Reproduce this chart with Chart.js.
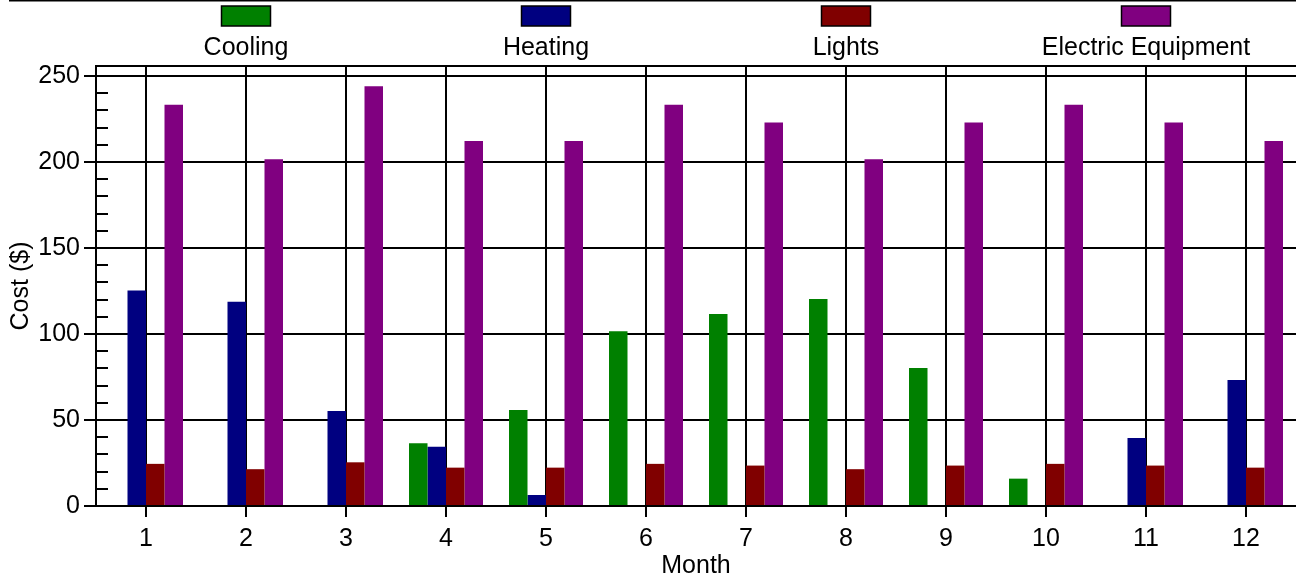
<!DOCTYPE html>
<html>
<head>
<meta charset="utf-8">
<script src="https://cdn.jsdelivr.net/npm/chart.js@4.4.1/dist/chart.umd.min.js"></script>
<style>
  html, body { margin: 0; padding: 0; background: #fff; }
  #wrap { width: 1296px; height: 582px; }
</style>
</head>
<body>
<div id="wrap"><canvas id="c" width="1296" height="582"></canvas></div>
<script>
const months = ['1','2','3','4','5','6','7','8','9','10','11','12'];
const seriesNames = ['Cooling','Heating','Lights','Electric Equipment'];
const cooling  = [null, null, null, 36.5, 55.8, 101.6, 111.6, 120.4, 80.2, 15.9, null, null];
const heating  = [125.3, 118.8, 55.2, 34.4, 6.4, null, null, null, null, null, 39.5, 73.3];
const lights   = [24.5, 21.4, 25.4, 22.3, 22.3, 24.5, 23.5, 21.4, 23.5, 24.5, 23.5, 22.3];
const electric = [233.3, 201.6, 244.0, 212.2, 212.2, 233.3, 222.9, 201.6, 222.9, 233.3, 222.9, 212.2];
const yTicks = [0, 50, 100, 150, 200, 250];
const yMinorStep = 10;
const colors = ['#008000', '#000080', '#800000', '#800080'];

const FONT = '"Liberation Sans", Arial, sans-serif';
const FSIZE = 25;

const extras = {
  id: 'extras',
  afterDraw(chart) {
    const ctx = chart.ctx;
    const a = chart.chartArea;
    const y = chart.scales.y;
    ctx.save();
    ctx.fillStyle = '#000';
    ctx.fillRect(9, 0, 1296 - 9, 1.5);
    ctx.fillRect(a.left - 1, a.top - 1, a.right - a.left + 1, 2);
    for (let v = 0; v <= y.max; v += yMinorStep) {
      if (yTicks.includes(v)) continue;
      const py = Math.round(y.getPixelForValue(v));
      ctx.fillRect(a.left, py - 1, 12, 2);
    }
    const ds = chart.data.datasets;
    const colW = (a.right - a.left) / ds.length;
    ctx.font = FSIZE + 'px ' + FONT;
    ctx.textAlign = 'center';
    ctx.textBaseline = 'middle';
    ds.forEach((d, i) => {
      const cx = a.left + colW * (i + 0.5);
      ctx.fillStyle = d.backgroundColor;
      ctx.fillRect(cx - 24.5, 6, 49, 20);
      ctx.strokeStyle = '#000';
      ctx.lineWidth = 1.5;
      ctx.strokeRect(cx - 24.5, 6, 49, 20);
      ctx.fillStyle = '#000';
      ctx.fillText(d.label, cx, 48);
    });
    ctx.restore();
  }
};

new Chart(document.getElementById('c'), {
  type: 'bar',
  data: {
    labels: months,
    datasets: [
      { label: seriesNames[0], data: cooling,  backgroundColor: colors[0] },
      { label: seriesNames[1], data: heating,  backgroundColor: colors[1] },
      { label: seriesNames[2], data: lights,   backgroundColor: colors[2] },
      { label: seriesNames[3], data: electric, backgroundColor: colors[3] }
    ]
  },
  options: {
    responsive: false,
    animation: false,
    devicePixelRatio: 1,
    layout: { padding: { top: 66, left: 0, right: 0, bottom: 0 } },
    datasets: { bar: { categoryPercentage: 0.74, barPercentage: 1.0, borderWidth: 0 } },
    plugins: { legend: { display: false }, tooltip: { enabled: false } },
    scales: {
      x: {
        grid: { offset: false, color: '#000', lineWidth: 2, tickLength: 11, drawOnChartArea: true, tickColor: '#000' },
        border: { color: '#000', width: 2 },
        ticks: { color: '#000', font: { family: FONT, size: FSIZE }, padding: 7, maxRotation: 0 },
        title: { display: true, text: 'Month', color: '#000', font: { family: FONT, size: FSIZE }, padding: { top: 0, bottom: 1 } },
        afterFit(s) { s.height = 76; }
      },
      y: {
        min: 0, max: 255.8,
        afterBuildTicks(s) { s.ticks = yTicks.map(v => ({ value: v })); },
        grid: { color: '#000', lineWidth: 2, tickLength: 12, tickColor: '#000' },
        border: { color: '#000', width: 2 },
        ticks: { color: '#000', font: { family: FONT, size: FSIZE }, padding: 4 },
        title: { display: true, text: 'Cost ($)', color: '#000', font: { family: FONT, size: FSIZE }, padding: { top: 6, bottom: 0 } },
        afterFit(s) { s.width = 96; }
      }
    }
  },
  plugins: [extras]
});
</script>
</body>
</html>
